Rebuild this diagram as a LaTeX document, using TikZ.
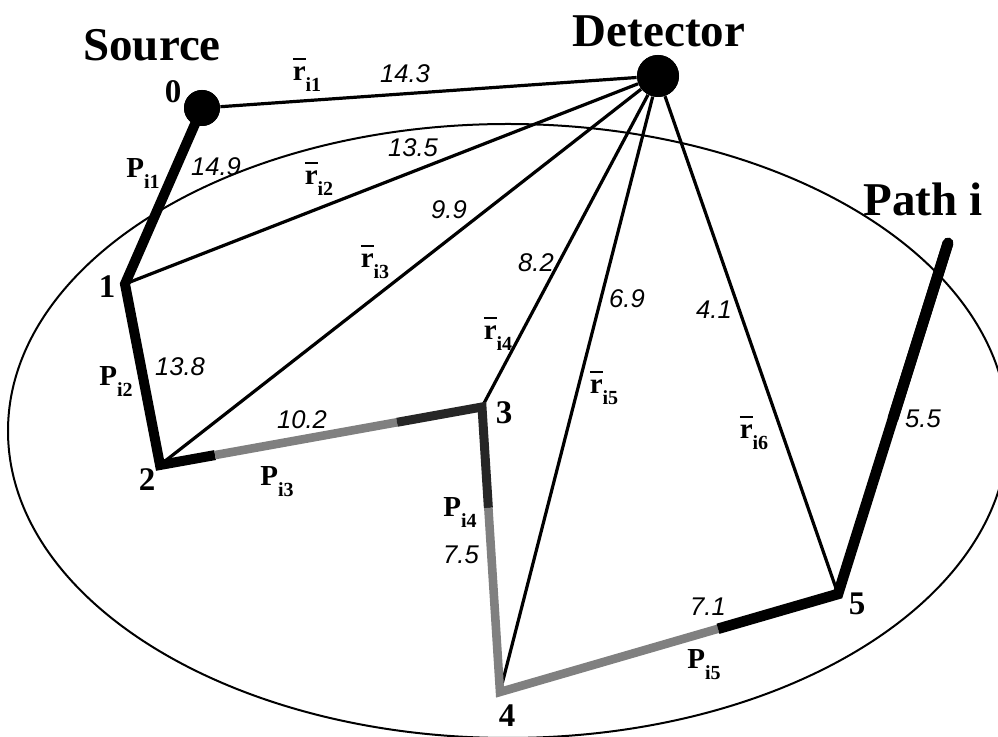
\documentclass[tikz,border=0pt]{standalone}
\usepackage{fontspec}
\setmainfont{Liberation Serif}
\newfontfamily\numfont{Liberation Sans}
\usetikzlibrary{calc}
\newcommand{\Plab}[1]{P\raisebox{-5.5pt}{\fontsize{10}{11}\selectfont #1}}
\newcommand{\Rlab}[1]{\hbox{\vbox{\hrule height 0.9pt\kern 3.6pt\hbox{r}}}\raisebox{-5.5pt}{\fontsize{10}{11}\selectfont #1}}
\tikzset{
  lbl/.style={font=\bfseries\fontsize{23.5}{28}\selectfont, inner sep=0pt},
  num/.style={font=\numfont\itshape\fontsize{12.8}{15}\selectfont, inner sep=0pt},
  idx/.style={font=\bfseries\fontsize{16.5}{19}\selectfont, inner sep=0pt},
  sym/.style={font=\bfseries\fontsize{14.5}{16}\selectfont, inner sep=0pt},
  ray/.style={line width=1.6pt},
  rim/.style={line width=1pt},
  pblack/.style={line width=5pt, black, line join=miter},
  pgrey/.style={line width=4.3pt, black!50},
  pdark/.style={line width=4.5pt, black!85, line join=miter},
  dot/.style={circle, fill=black, inner sep=0pt},
}
\begin{document}
\begin{tikzpicture}[x=0.5pt, y=-0.5pt]
\useasboundingbox (0,0) rectangle (998,737);
\clip (0,0) rectangle (998,737);
% ellipse
\draw[rim] (508,431) ellipse [x radius=250pt, y radius=153.5pt];
% points
\coordinate (n1) at (125,284);
\coordinate (n2) at (160,465);
\coordinate (n3) at (482,407);
\coordinate (n4) at (500,692);
\coordinate (n5) at (838,594);
\coordinate (nend) at (948,243);
\node[dot, minimum size=18pt] (src) at (202,108) {};
\node[dot, minimum size=21pt] (det) at (658,76) {};
\coordinate (g23a) at ($(n2)!0.171!(n3)$);
\coordinate (g23b) at ($(n2)!0.736!(n3)$);
\coordinate (g34) at ($(n3)!0.354!(n4)$);
\coordinate (g45) at ($(n4)!0.645!(n5)$);
% rays
\draw[ray] (src) -- (det);
\draw[ray] (det) -- (n1);
\draw[ray] (det) -- (n2);
\draw[ray] (det) -- (n3);
\draw[ray] (det) -- (n4);
\draw[ray] (det) -- (n5);
% thick path
\draw[pblack] (src.center) -- (n1) -- (n2) -- (g23a);
\draw[pgrey] (g23a) -- (g23b);
\draw[pdark] (g23b) -- (n3) -- (g34);
\draw[pgrey, line join=miter] (g34) -- (n4) -- (g45);
\draw[pblack, line width=5.3pt] (g45) -- (n5) -- (nend);
\draw[line width=5.5pt, line cap=round] ($(n5)!0.5!(nend)$) -- (nend);
\node[dot, minimum size=18pt] at (src) {};
\node[dot, minimum size=21pt] at (det) {};
% titles
\node[lbl] (tsrc) at (152,45) {Source};
\node[lbl] (tdet) at (659,31) {Detector};
\node[lbl] (tpath) at (923,199) {Path i};
% indices
\node[idx] (i0) at (173,92) {0};
\node[idx] (i1) at (107,287) {1};
\node[idx] (i2) at (147,480) {2};
\node[idx] (i3) at (504,413) {3};
\node[idx] (i4) at (507,716) {4};
\node[idx] (i5) at (857,604) {5};
% P labels
\node[sym] (p1) at (143,174) {\Plab{i1}};
\node[sym] (p2) at (116,382) {\Plab{i2}};
\node[sym] (p3) at (277,482) {\Plab{i3}};
\node[sym] (p4) at (460,513) {\Plab{i4}};
\node[sym] (p5) at (704,665) {\Plab{i5}};
% r labels
\node[sym] (r1) at (307,75) {\Rlab{i1}};
\node[sym] (r2) at (319,179) {\Rlab{i2}};
\node[sym] (r3) at (375,262) {\Rlab{i3}};
\node[sym] (r4) at (498,334) {\Rlab{i4}};
\node[sym] (r5) at (604,388) {\Rlab{i5}};
\node[sym] (r6) at (754,433) {\Rlab{i6}};
% numbers
\node[num] (v1) at (405,74) {14.3};
\node[num] (v2) at (216,167) {14.9};
\node[num] (v3) at (413,148) {13.5};
\node[num] (v4) at (449,210) {9.9};
\node[num] (v5) at (536,263) {8.2};
\node[num] (v6) at (627,299) {6.9};
\node[num] (v7) at (714,310) {4.1};
\node[num] (v8) at (180,367) {13.8};
\node[num] (v9) at (302,420) {10.2};
\node[num] (v10) at (461,555) {7.5};
\node[num] (v11) at (708,607) {7.1};
\node[num] (v12) at (923,419) {5.5};
\end{tikzpicture}
\end{document}
